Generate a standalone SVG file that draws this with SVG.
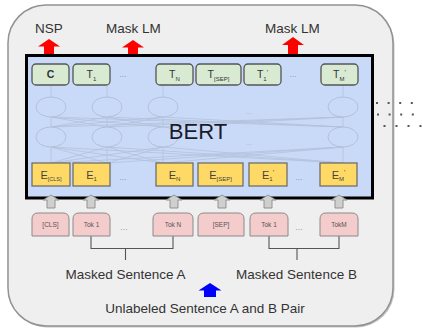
<svg xmlns="http://www.w3.org/2000/svg" width="422" height="329" viewBox="0 0 422 329">
<defs>
<style>
text{font-family:"Liberation Sans",Arial,sans-serif;}
.lbl{font-size:13.5px;fill:#333;text-anchor:middle;}
.tbox{fill:#d9ead3;stroke:#555;stroke-width:1.3;}
.ebox{fill:#ffd966;stroke:#666;stroke-width:1.2;}
.tok{fill:#f4cccc;stroke:#8a8a8a;stroke-width:1;}
.tt{font-size:10.5px;fill:#333;text-anchor:middle;}
.et{font-size:11px;fill:#444;text-anchor:middle;}
.kt{font-size:6.5px;fill:#555;text-anchor:middle;}
.dots{font-size:9px;fill:#999;text-anchor:middle;}
.net{stroke:#b3c1db;stroke-width:0.8;fill:none;}
.ell{stroke:#afbcd4;stroke-width:0.9;fill:#c9daf8;}
.garrow{fill:#cfcfcf;stroke:#8a8a8a;stroke-width:0.9;}
.conn{stroke:#555;stroke-width:1.1;fill:none;}
</style>
</defs>

<!-- outer container -->
<rect x="9.5" y="6.5" width="385" height="321" rx="38" fill="#c4c4c4"/>
<rect x="8" y="5" width="385" height="321" rx="38" fill="#efefef" stroke="#929292" stroke-width="1.5"/>

<!-- top labels -->
<text class="lbl" x="49" y="33">NSP</text>
<text class="lbl" x="133.5" y="33">Mask LM</text>
<text class="lbl" x="292.5" y="33">Mask LM</text>

<!-- red output arrows -->
<g id="arrow-nsp"><polygon points="49,39 60,46.5 54,46.5 54,56 44,56 44,46.5 38,46.5" fill="#ff0000"/></g>
<g id="arrow-mlm1"><polygon points="133,40 144,47.5 138,47.5 138,56 128,56 128,47.5 122,47.5" fill="#ff0000"/></g>
<g id="arrow-mlm2"><polygon points="293,37 304,45 298,45 298,56 288,56 288,45 282,45" fill="#ff0000"/></g>

<!-- dotted lines at right -->
<g id="dotted">
<line x1="376" y1="103" x2="422" y2="103" stroke="#555" stroke-width="2" stroke-dasharray="2 9.6"/>
<line x1="377" y1="114.5" x2="422" y2="114.5" stroke="#555" stroke-width="2" stroke-dasharray="2 9.6"/>
<line x1="383.5" y1="126" x2="422" y2="126" stroke="#555" stroke-width="2" stroke-dasharray="2 10"/>
</g>

<!-- BERT box -->
<g id="bert">
<rect x="26.5" y="55.5" width="346" height="142.5" fill="#c9daf8" stroke="#000" stroke-width="3"/>
<g id="network">
<line class="net" x1="51" y1="85" x2="51" y2="97"/>
<line class="net" x1="107" y1="85" x2="107" y2="97"/>
<line class="net" x1="163" y1="85" x2="163" y2="97"/>
<line class="net" x1="343" y1="85" x2="343" y2="97"/>
<path class="net" d="M51,117L51,127M51,117L107,127M51,117L163,127M51,117L343,127M107,117L51,127M107,117L107,127M107,117L163,127M107,117L343,127M163,117L51,127M163,117L107,127M163,117L163,127M163,117L343,127M343,117L51,127M343,117L107,127M343,117L163,127M343,117L343,127"/>
<path class="net" d="M51,147L51,163M51,147L107,163M51,147L163,163M51,147L343,163M107,147L51,163M107,147L107,163M107,147L163,163M107,147L343,163M163,147L51,163M163,147L107,163M163,147L163,163M163,147L343,163M343,147L51,163M343,147L107,163M343,147L163,163M343,147L343,163"/>
<ellipse class="ell" cx="51" cy="107" rx="15" ry="10"/>
<ellipse class="ell" cx="107" cy="107" rx="15" ry="10"/>
<ellipse class="ell" cx="163" cy="107" rx="15" ry="10"/>
<ellipse class="ell" cx="343" cy="107" rx="15" ry="10"/>
<ellipse class="ell" cx="51" cy="137" rx="15" ry="10"/>
<ellipse class="ell" cx="107" cy="137" rx="15" ry="10"/>
<ellipse class="ell" cx="163" cy="137" rx="15" ry="10"/>
<ellipse class="ell" cx="343" cy="137" rx="15" ry="10"/>
<text x="249" y="114" font-size="8" fill="#aab6cc" text-anchor="middle">...</text>
<text x="249" y="145" font-size="8" fill="#aab6cc" text-anchor="middle">...</text>
</g>
<text x="198" y="138.5" font-size="22" fill="#1b1b2b" text-anchor="middle">BERT</text>
</g>

<!-- output T boxes -->
<g id="t-c"><rect class="tbox" x="32" y="64" width="37" height="21" rx="4"/><text class="tt" x="50.5" y="78" font-weight="bold">C</text></g>
<g id="t-1"><rect class="tbox" x="73" y="64" width="37" height="21" rx="4"/><text class="tt" x="91.5" y="78">T<tspan font-size="6" dy="2.5">1</tspan></text></g>
<text class="dots" x="123" y="77">...</text>
<g id="t-n"><rect class="tbox" x="156" y="64" width="37" height="21" rx="4"/><text class="tt" x="174.5" y="78">T<tspan font-size="6" dy="2.5">N</tspan></text></g>
<g id="t-sep"><rect class="tbox" x="196" y="64" width="45" height="21" rx="4"/><text class="tt" x="218.5" y="78">T<tspan font-size="6" dy="2.5">[SEP]</tspan></text></g>
<g id="t-1b"><rect class="tbox" x="244" y="64" width="37" height="21" rx="4"/><text class="tt" x="262.5" y="78">T<tspan font-size="6" dy="2.5">1</tspan><tspan font-size="7" dy="-6">'</tspan></text></g>
<text class="dots" x="293" y="77">...</text>
<g id="t-m"><rect class="tbox" x="321" y="64" width="37" height="21" rx="4"/><text class="tt" x="339.5" y="78">T<tspan font-size="6" dy="2.5">M</tspan><tspan font-size="7" dy="-6">'</tspan></text></g>

<!-- embedding E boxes -->
<g id="e-cls"><rect class="ebox" x="32" y="163" width="38" height="23"/><text class="et" x="51" y="179">E<tspan font-size="5.5" dy="2">[CLS]</tspan></text></g>
<g id="e-1"><rect class="ebox" x="73" y="163" width="37" height="23"/><text class="et" x="91.5" y="179">E<tspan font-size="6" dy="2">1</tspan></text></g>
<text class="dots" x="123" y="180">...</text>
<g id="e-n"><rect class="ebox" x="156" y="163" width="37" height="23"/><text class="et" x="174.5" y="179">E<tspan font-size="6" dy="2">N</tspan></text></g>
<g id="e-sep"><rect class="ebox" x="198" y="163" width="45" height="23"/><text class="et" x="220.5" y="179">E<tspan font-size="6" dy="2">[SEP]</tspan></text></g>
<g id="e-1b"><rect class="ebox" x="249" y="163" width="38" height="23"/><text class="et" x="268" y="179">E<tspan font-size="6" dy="2">1</tspan><tspan font-size="7" dy="-6">'</tspan></text></g>
<text class="dots" x="299" y="180">...</text>
<g id="e-m"><rect class="ebox" x="320" y="163" width="37" height="23"/><text class="et" x="338.5" y="179">E<tspan font-size="6" dy="2">M</tspan><tspan font-size="7" dy="-6">'</tspan></text></g>

<!-- connectors -->
<g id="connectors">
<polygon class="garrow" points="51,195 59,200 55,200 55,208 47,208 47,200 43,200"/>
<polygon class="garrow" points="91,195 99,200 95,200 95,208 87,208 87,200 83,200"/>
<polygon class="garrow" points="174,195 182,200 178,200 178,208 170,208 170,200 166,200"/>
<polygon class="garrow" points="222,195 230,200 226,200 226,208 218,208 218,200 214,200"/>
<polygon class="garrow" points="268,195 276,200 272,200 272,208 264,208 264,200 260,200"/>
<polygon class="garrow" points="339,195 347,200 343,200 343,208 335,208 335,200 331,200"/>
<path class="conn" d="M91,236V248.5H173V236M125.5,248.5V260"/>
<path class="conn" d="M269,236V248.5H339V236M297,248.5V260"/>
<polygon points="210,283 221.5,290.5 216,290.5 216,297 204,297 204,290.5 198.5,290.5" fill="#0000ff"/>
</g>

<!-- token boxes -->
<g id="tok-cls"><path class="tok" d="M32,236V219Q32,213 38,213H63Q69,213 69,219V236Z"/><text class="kt" x="50.5" y="227">[CLS]</text></g>
<g id="tok-1a"><path class="tok" d="M73,236V219Q73,213 79,213H104Q110,213 110,219V236Z"/><text class="kt" x="91.5" y="227">Tok 1</text></g>
<text class="dots" x="124" y="230">...</text>
<g id="tok-n"><path class="tok" d="M153,236V219Q153,213 159,213H187Q193,213 193,219V236Z"/><text class="kt" x="173" y="227">Tok N</text></g>
<g id="tok-sep"><path class="tok" d="M198,236V219Q198,213 204,213H238Q244,213 244,219V236Z"/><text class="kt" x="221" y="227">[SEP]</text></g>
<g id="tok-1b"><path class="tok" d="M250,236V219Q250,213 256,213H282Q288,213 288,219V236Z"/><text class="kt" x="269" y="227">Tok 1</text></g>
<text class="dots" x="299" y="230">...</text>
<g id="tok-m"><path class="tok" d="M320,236V219Q320,213 326,213H352Q358,213 358,219V236Z"/><text class="kt" x="339" y="227">TokM</text></g>

<!-- bottom labels -->
<text class="lbl" x="125.5" y="279">Masked Sentence A</text>
<text class="lbl" x="296.5" y="279">Masked Sentence B</text>
<text class="lbl" x="205" y="313">Unlabeled Sentence A and B Pair</text>
</svg>
